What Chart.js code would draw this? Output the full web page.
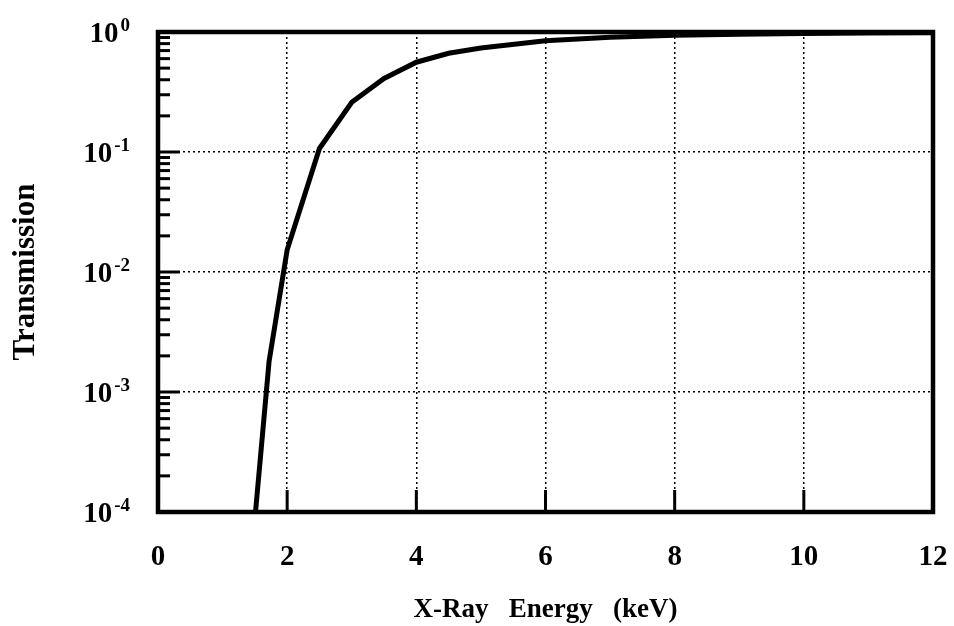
<!DOCTYPE html>
<html>
<head>
<meta charset="utf-8">
<script src="https://cdn.jsdelivr.net/npm/chart.js@4.4.0/dist/chart.umd.min.js"></script>
<style>
  html, body { margin: 0; padding: 0; background: #fff; }
  #wrap { width: 954px; height: 626px; }
</style>
</head>
<body>
<div id="wrap"><canvas id="chart-transmission"></canvas></div>
<script>
// Transmission vs x-ray energy
const energy = [1.51, 1.72, 2.0, 2.5, 3.0, 3.5, 4.0, 4.5, 5.0, 6.0, 7.0, 8.0, 9.0, 10.0, 11.0, 12.0];
const transmission = [1e-4, 1.8e-3, 0.0153, 0.107, 0.26, 0.41, 0.56, 0.665, 0.735, 0.845, 0.905, 0.94, 0.96, 0.972, 0.98, 0.985];
const xTicks = [0, 2, 4, 6, 8, 10, 12];
const yExponents = [0, -1, -2, -3, -4];

const serif = 'Liberation Serif';

const points = energy.map((e, i) => ({ x: e, y: transmission[i] }));

// frame, inner ticks and 10^n labels
const framePlugin = {
  id: 'frame',
  afterDraw(chart) {
    const ctx = chart.ctx;
    const a = chart.chartArea;
    const xs = chart.scales.x, ys = chart.scales.y;
    ctx.save();
    ctx.strokeStyle = '#000';
    ctx.lineCap = 'butt';

    // minor ticks on left axis
    ctx.lineWidth = 3;
    for (let e = -4; e < 0; e++) {
      for (let m = 2; m <= 9; m++) {
        const py = ys.getPixelForValue(m * Math.pow(10, e));
        ctx.beginPath();
        ctx.moveTo(a.left, py);
        ctx.lineTo(a.left + 12, py);
        ctx.stroke();
      }
    }
    // major ticks
    yExponents.forEach(e => {
      const py = ys.getPixelForValue(Math.pow(10, e));
      ctx.beginPath();
      ctx.moveTo(a.left, py);
      ctx.lineTo(a.left + 22, py);
      ctx.stroke();
    });
    xTicks.slice(1, -1).forEach(v => {
      const px = xs.getPixelForValue(v);
      ctx.beginPath();
      ctx.moveTo(px, a.bottom);
      ctx.lineTo(px, a.bottom - 22);
      ctx.stroke();
    });

    // border
    ctx.lineWidth = 4.5;
    ctx.strokeRect(a.left, a.top, a.right - a.left, a.bottom - a.top);

    // y labels 10^n
    ctx.fillStyle = '#000';
    ctx.textBaseline = 'alphabetic';
    ctx.textAlign = 'left';
    yExponents.forEach(e => {
      const py = ys.getPixelForValue(Math.pow(10, e));
      const exp = e === 0 ? '0' : '-' + Math.abs(e);
      ctx.font = 'bold 29px "' + serif + '"';
      const wb = ctx.measureText('10').width;
      ctx.font = 'bold 19px "' + serif + '"';
      const we = ctx.measureText(exp).width;
      const x0 = 130 - wb - we - 2;
      ctx.font = 'bold 29px "' + serif + '"';
      ctx.fillText('10', x0, py + 10);
      ctx.font = 'bold 19px "' + serif + '"';
      ctx.fillText(exp, x0 + wb + 2, py - 1);
    });
    ctx.restore();
  }
};

const edgeClear = (ctx, lo, hi) => {
  const v = ctx.tick.value;
  return (v <= lo || v >= hi) ? 'rgba(0,0,0,0)' : '#000';
};

const config = {
  type: 'line',
  data: {
    datasets: [{
      data: points,
      borderColor: '#000',
      borderWidth: 5,
      pointRadius: 0,
      tension: 0,
      fill: false
    }]
  },
  options: {
    responsive: false,
    animation: false,
    layout: { padding: { left: 0, top: 32, right: 21, bottom: 0 } },
    plugins: { legend: { display: false }, tooltip: { enabled: false } },
    scales: {
      x: {
        type: 'linear',
        min: 0,
        max: 12,
        afterBuildTicks: s => { s.ticks = xTicks.map(v => ({ value: v })); },
        afterFit: s => { s.height = 114; s.paddingLeft = 0; s.paddingRight = 0; },
        ticks: {
          color: '#000',
          padding: 28,
          font: { family: serif, size: 29, weight: 'bold' }
        },
        grid: {
          drawTicks: false,
          lineWidth: 1.5,
          color: c => edgeClear(c, 0, 12)
        },
        border: { display: false, dash: [2, 3] },
        title: {
          display: true,
          text: 'X-Ray   Energy   (keV)',
          color: '#000',
          padding: { top: 0, bottom: 0 },
          font: { family: serif, size: 27, weight: 'bold' }
        }
      },
      y: {
        type: 'logarithmic',
        min: 1e-4,
        max: 1,
        afterBuildTicks: s => { s.ticks = yExponents.map(e => ({ value: Math.pow(10, e) })).reverse(); },
        afterFit: s => { s.width = 158; },
        ticks: { display: false },
        grid: {
          drawTicks: false,
          lineWidth: 1.5,
          color: c => edgeClear(c, 1e-4, 1)
        },
        border: { display: false, dash: [2, 3] },
        title: {
          display: true,
          text: 'Transmission',
          color: '#000',
          padding: { top: 7 },
          font: { family: serif, size: 31, weight: 'bold' }
        }
      }
    }
  },
  plugins: [framePlugin]
};

const canvas = document.getElementById('chart-transmission');
canvas.width = 954;
canvas.height = 626;
const myChart = new Chart(canvas, config);
</script>
</body>
</html>
